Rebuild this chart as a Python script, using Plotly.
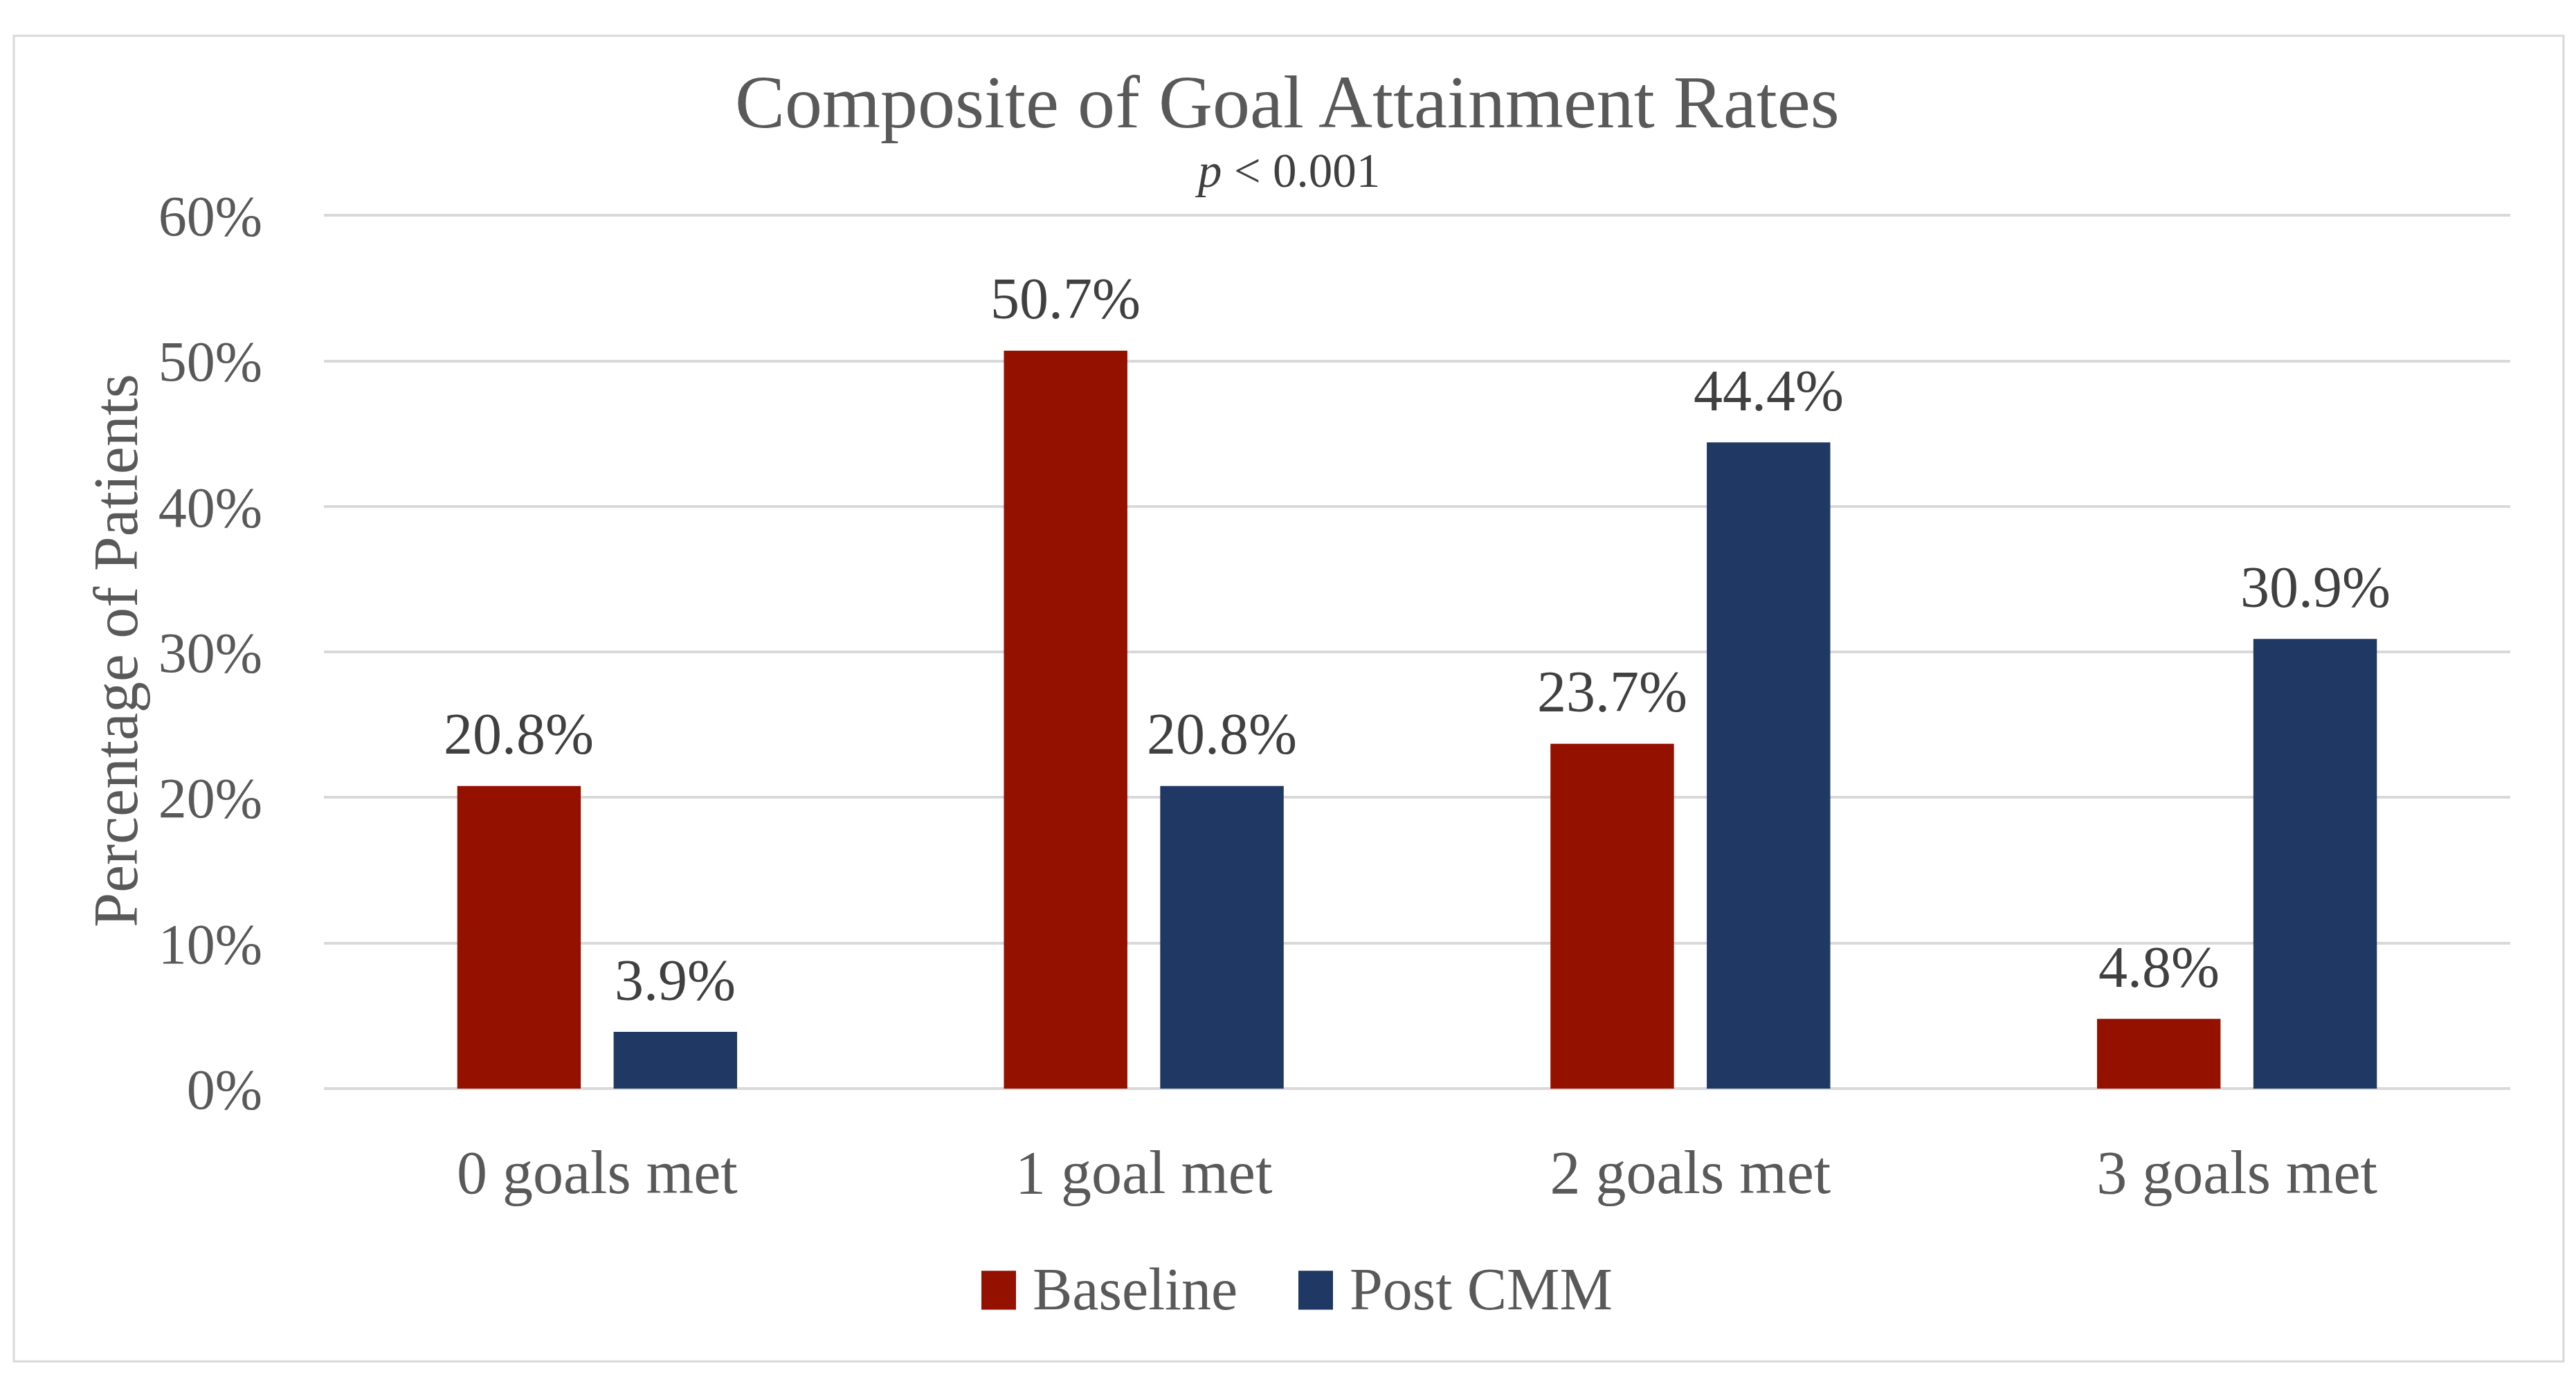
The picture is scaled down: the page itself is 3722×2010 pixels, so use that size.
import plotly.graph_objects as go

categories = ["0 goals met", "1 goal met", "2 goals met", "3 goals met"]
series_names = ["Baseline", "Post CMM"]
baseline = [20.8, 50.7, 23.7, 4.8]
post_cmm = [3.9, 20.8, 44.4, 30.9]
y_ticks = [0, 10, 20, 30, 40, 50, 60]
y_tick_text = ["0%", "10%", "20%", "30%", "40%", "50%", "60%"]

W, H = 3722, 2010
# observed rendering: vertical mapping offset/scale, horizontal offset
OFF, S, XOFF = 48, 0.956, 7


def fy(yt):
    """target pixel y (from top) -> paper fraction"""
    return 1 - (yt - OFF) / (S * H)


def fx(xt):
    return (xt - XOFF) / W


PL, PR = 467, 3626   # plot area left/right (target px)
PT, PB = 311, 1572   # y=60 and y=0 (target px)
YMAX = 60.2
PT_EXT = PT - (YMAX - 60) / 60 * (PB - PT)

FONT = "Liberation Serif, Times New Roman, serif"
AX = "#595959"
LBL = "#404040"
colors = ["#941100", "#1F3864"]

fig = go.Figure()
for name, vals, col in zip(series_names, [baseline, post_cmm], colors):
    fig.add_trace(go.Bar(x=categories, y=vals, name=name, marker_color=col,
                         marker_line_width=0, showlegend=False))

cat_px = (PR - PL) / len(categories)
bargap = 0.428
slot = cat_px * (1 - bargap) / 2
offs = [-slot / 2, slot / 2]

annotations = []
for vals, dx in zip([baseline, post_cmm], offs):
    for c, v in zip(categories, vals):
        annotations.append(dict(x=c, y=v, xref="x", yref="y", text=f"{v:.1f}%",
                                showarrow=False, xshift=dx, yshift=75,
                                yanchor="middle",
                                font=dict(family=FONT, size=84, color=LBL)))

# title and subtitle
annotations.append(dict(x=fx(1859), y=fy(147), xref="paper", yref="paper",
                        text="Composite of Goal Attainment Rates", showarrow=False,
                        yanchor="middle", font=dict(family=FONT, size=108, color=AX)))
annotations.append(dict(x=fx(1859), y=fy(247), xref="paper", yref="paper",
                        text="<i>p</i> < 0.001", showarrow=False,
                        yanchor="middle", font=dict(family=FONT, size=69, color=LBL)))

# legend (manual, large swatches)
shapes = []
leg_items = [(1417, 1489), (1875, 1947)]
for (sx, tx), name, col in zip(leg_items, series_names, colors):
    shapes.append(dict(type="rect", xref="paper", yref="paper",
                       x0=fx(sx), x1=fx(sx + 50),
                       y0=fy(1891), y1=fy(1835),
                       fillcolor=col, line_width=0))
    annotations.append(dict(x=fx(tx), y=fy(1862), xref="paper", yref="paper",
                            text=name, showarrow=False, xanchor="left", yanchor="middle",
                            font=dict(family=FONT, size=86, color=AX)))

# outer border
shapes.append(dict(type="rect", xref="paper", yref="paper",
                   x0=fx(19), x1=fx(3703), y0=max(fy(1990), 0.002), y1=min(fy(31), 0.998),
                   line=dict(color="#D9D9D9", width=3), fillcolor="rgba(0,0,0,0)"))

fig.update_layout(
    width=W, height=H,
    margin=dict(l=0, r=0, t=0, b=0),
    paper_bgcolor="white", plot_bgcolor="white",
    barmode="group", bargap=bargap, bargroupgap=0.21,
    annotations=annotations, shapes=shapes,
    xaxis=dict(domain=[fx(PL), fx(PR)], showgrid=False, showline=False,
               ticks="", ticklabelstandoff=62,
               tickfont=dict(family=FONT, size=88, color=AX)),
    yaxis=dict(domain=[fy(PB), fy(PT_EXT)], range=[0, YMAX],
               tickmode="array", tickvals=y_ticks, ticktext=y_tick_text,
               showline=False, zeroline=True, zerolinecolor="#D9D9D9", zerolinewidth=4,
               gridcolor="#D9D9D9", gridwidth=4, ticks="", ticklabelstandoff=88,
               tickfont=dict(family=FONT, size=82, color=AX),
               title=dict(text="Percentage of Patients", standoff=0,
                          font=dict(family=FONT, size=90, color=AX))),
)

fig.write_html("out.html")
